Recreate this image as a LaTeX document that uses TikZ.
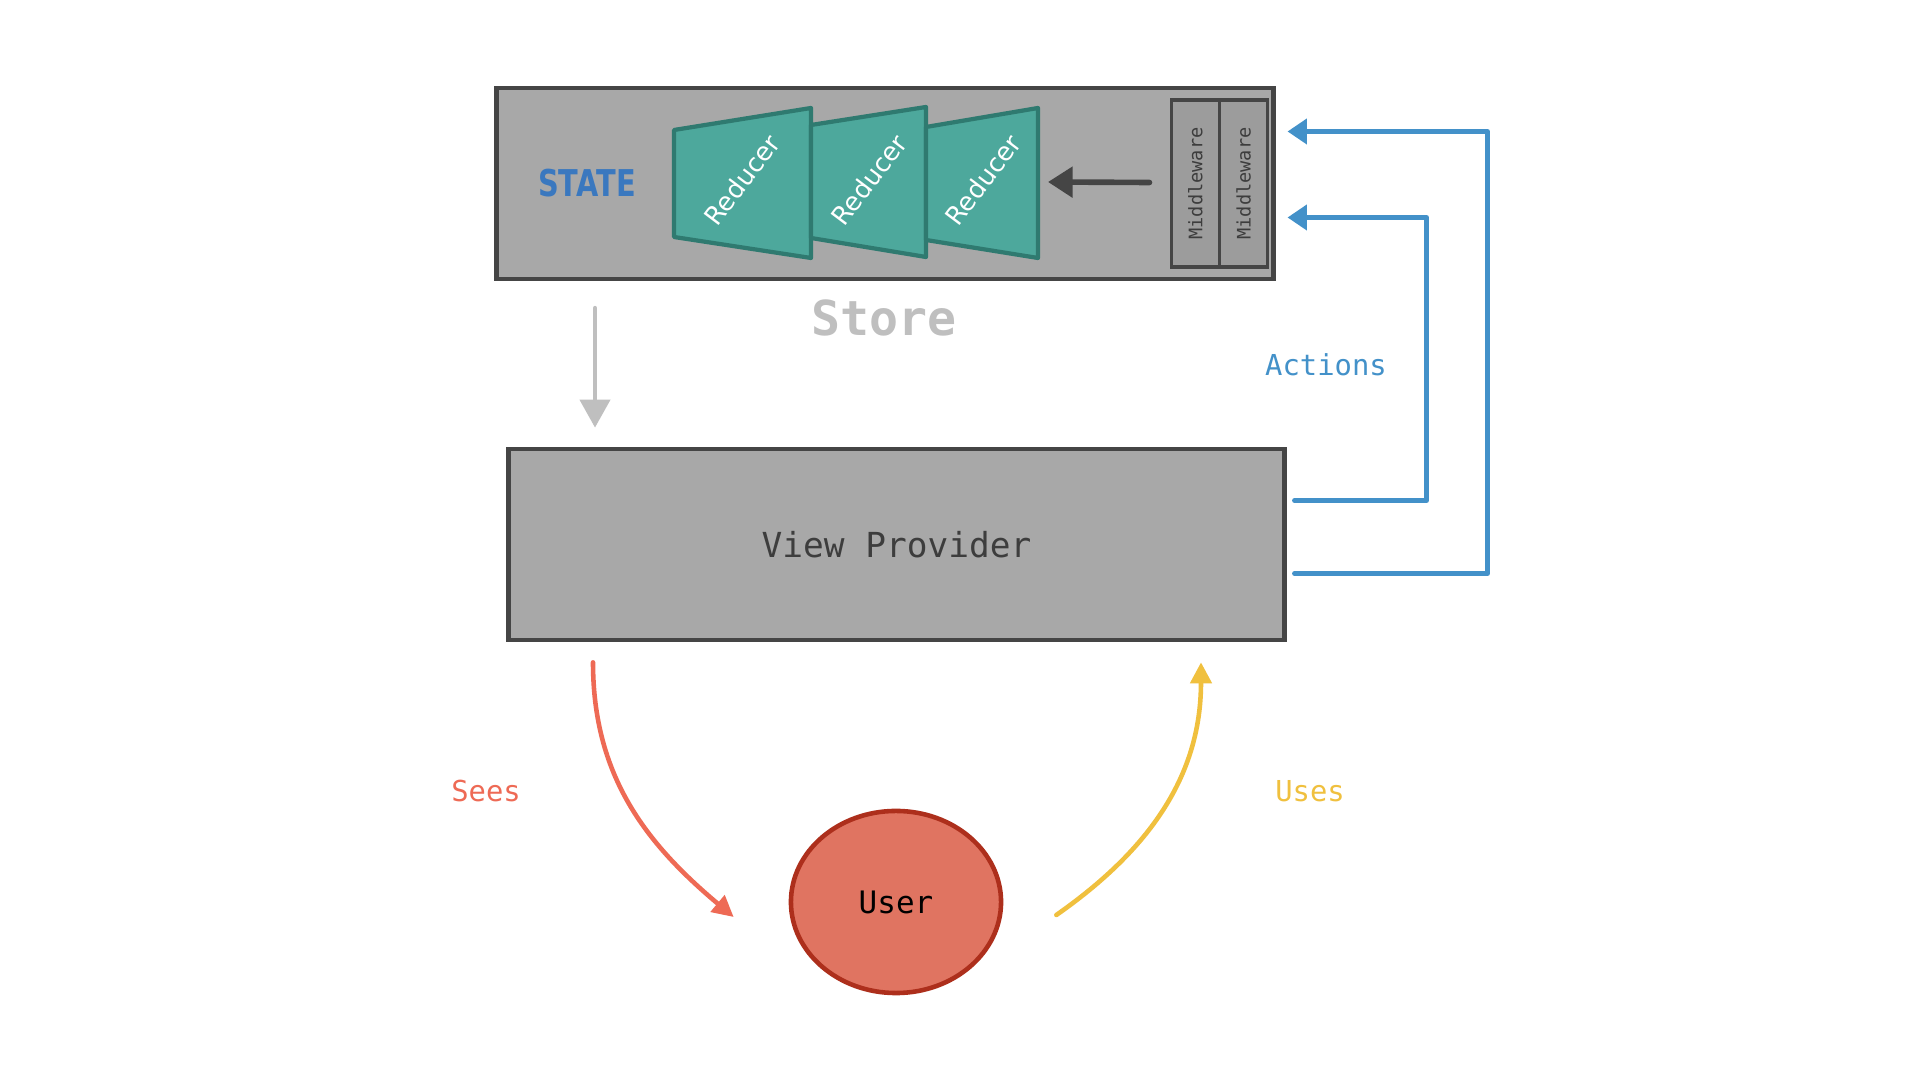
\documentclass[tikz,border=0pt]{standalone}
\usepackage{fontspec}
\setmainfont{DejaVu Sans}
\setmonofont{DejaVu Sans Mono}
\newfontfamily\statefont[FakeStretch=0.78]{DejaVu Sans}
\usetikzlibrary{shapes, arrows.meta, positioning, calc}

\definecolor{storegray}{HTML}{A8A8A8}
\definecolor{edgegray}{HTML}{454545}
\definecolor{mwgray}{HTML}{9C9C9C}
\definecolor{redteal}{HTML}{4DA89C}
\definecolor{redtealdark}{HTML}{2F7A70}
\definecolor{stateblue}{HTML}{3A78BF}
\definecolor{actblue}{HTML}{4391C9}
\definecolor{labelgray}{HTML}{BFBFBF}
\definecolor{seesred}{HTML}{EE6A55}
\definecolor{userred}{HTML}{E07461}
\definecolor{userdark}{HTML}{AD2F1C}
\definecolor{usesyellow}{HTML}{F0C03E}
\definecolor{textdark}{HTML}{3D3D3D}

\tikzset{
  box/.style={draw=edgegray, fill=storegray, line width=1.3pt, inner sep=0pt},
  mwbox/.style={draw=edgegray, fill=mwgray, line width=1pt, outer sep=0pt, inner sep=0pt,
    minimum width=0.48cm, minimum height=1.67cm},
  reducer/.style={fill=redteal, draw=redtealdark, line width=1.2pt, line join=round},
  redlabel/.style={text=white, font=\fontsize{7.3}{9}\selectfont, rotate=53},
  actline/.style={draw=actblue, line width=1.4pt, line cap=round, line join=round,
    -{Triangle[length=5.5pt,width=7pt]}},
  flowlabel/.style={font=\ttfamily\fontsize{8.2}{10}\selectfont}
}

\begin{document}
\begin{tikzpicture}[x=0.01cm, y=-0.01cm]
  \useasboundingbox[fill=white] (0,0) rectangle (1920,1080);

  % Store
  \node[box, minimum width=7.76cm, minimum height=1.91cm] (store) at (885,183.5) {};

  % Reducers
  \path[reducer] (674,130) -- (811,108) -- (811,258) -- (674,237) -- cycle;
  \path[reducer] (811,125) -- (926,107) -- (926,257) -- (811,238) -- cycle;
  \path[reducer] (926,127) -- (1038,108) -- (1038,258) -- (926,240) -- cycle;
  \node[redlabel] (redA) at (742,180) {Reducer};
  \node[redlabel] (redB) at (869,180) {Reducer};
  \node[redlabel] (redC) at (983,180) {Reducer};
  \coordinate (redCin) at (1048,182);

  \node[text=stateblue, font=\statefont\bfseries\fontsize{10.5}{12}\selectfont] (state) at (587,183) {STATE};

  % Middleware
  \node[mwbox, anchor=east] (mwB) at ([shift={(-8,0)}]store.east) {};
  \node[mwbox, left=0pt of mwB] (mwA) {};
  \node[rotate=90, text=textdark, font=\ttfamily\fontsize{5.3}{6}\selectfont] at (mwA) {Middleware};
  \node[rotate=90, text=textdark, font=\ttfamily\fontsize{5.3}{6}\selectfont] at (mwB) {Middleware};

  \draw[edgegray, line width=1.6pt, line cap=round, -{Triangle[length=7pt,width=8.5pt]}]
    ([shift={(-22,-1)}]mwA.west) -- (redCin);

  \node[text=labelgray, font=\ttfamily\bfseries\fontsize{13.7}{16}\selectfont] (storelbl) at (884,318) {Store};

  % View Provider
  \node[box, minimum width=7.75cm, minimum height=1.91cm, text=textdark,
    font=\ttfamily\fontsize{9.8}{12}\selectfont] (vp) at (896.5,544.5) {View Provider};

  \draw[labelgray, line width=1.4pt, line cap=round, -{Triangle[length=8pt,width=8.5pt]}]
    ([shift={(-290,27)}]store.south) -- ([shift={(-301.5,-19)}]vp.north);

  % Actions
  \draw[actline] ([shift={(8,-44)}]vp.east) -| ([shift={(151,34)}]store.east) -- ([shift={(12,34)}]store.east);
  \draw[actline] ([shift={(8,29)}]vp.east) -| ([shift={(212,-52)}]store.east) -- ([shift={(12,-52)}]store.east);
  \node[flowlabel, text=actblue] (actions) at (1326,365) {Actions};

  % User
  \node[ellipse, draw=userdark, fill=userred, line width=1.3pt, minimum width=2.1cm, minimum height=1.82cm,
    font=\ttfamily\fontsize{8.8}{10}\selectfont] (user) at (896,902) {User};

  \draw[seesred, line width=1.3pt, line cap=round, -{Triangle[length=6pt,width=6pt]}]
    ([shift={(-303.5,20)}]vp.south) to[out=-90, in=140] ([shift={(-55,15)}]user.west);
  \node[flowlabel, text=seesred] (sees) at (486,791) {Sees};

  \draw[usesyellow, line width=1.3pt, line cap=round, -{Triangle[length=6pt,width=6pt]}]
    ([shift={(53,13)}]user.east) to[out=35, in=-90] ([shift={(304.5,20)}]vp.south);
  \node[flowlabel, text=usesyellow] (uses) at (1310,791) {Uses};
\end{tikzpicture}
\end{document}
